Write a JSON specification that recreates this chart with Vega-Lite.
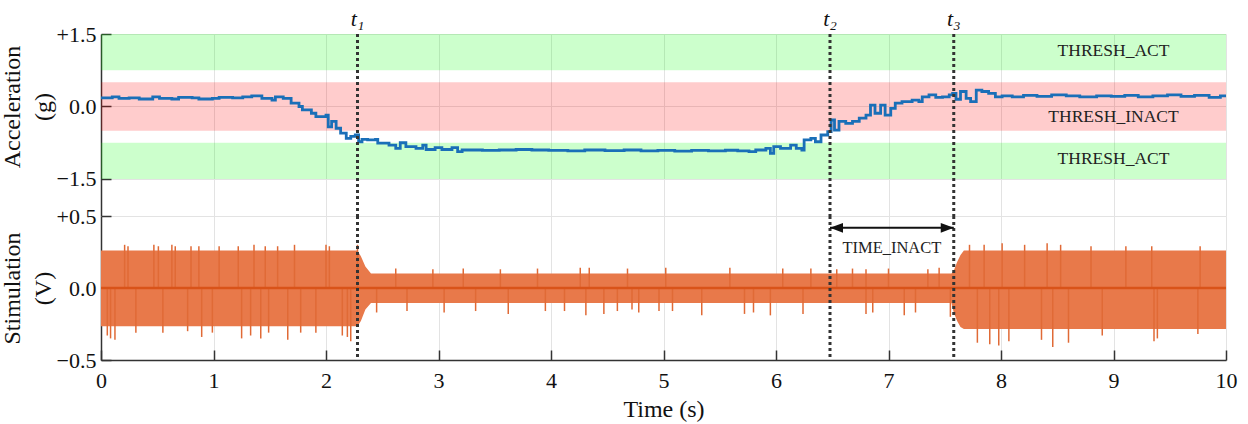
{
  "$schema": "https://vega.github.io/schema/vega-lite/v6.json",
  "padding": {"left": 0, "top": 8, "right": 12, "bottom": 4},
  "spacing": 0,
  "bounds": "flush",
  "resolve": {"scale": {"y": "independent"}},
  "config": {
    "font": "Liberation Serif",
    "view": {"stroke": null},
    "axis": {
      "labelFont": "Liberation Serif", "titleFont": "Liberation Serif",
      "labelFontSize": 22, "titleFontSize": 24, "titleFontWeight": "normal",
      "labelColor": "#111", "titleColor": "#111",
      "domainColor": "#333", "domainWidth": 1.5,
      "tickColor": "#333", "tickWidth": 1.5, "tickSize": -10,
      "gridColor": "#e3e3e3", "gridWidth": 1,
      "labelFlush": false, "labelOverlap": false, "labelBound": false
    },
    "text": {"font": "Liberation Serif"}
  },
  "datasets": {
    "bands": [
      {"t": 0, "t2": 10, "lo": 0.75, "hi": 1.5, "kind": "act"},
      {"t": 0, "t2": 10, "lo": -0.5, "hi": 0.5, "kind": "inact"},
      {"t": 0, "t2": 10, "lo": -1.5, "hi": -0.75, "kind": "act"}
    ],
    "blab": [
      {"t": 9.0, "g": 1.14, "lab": "THRESH_ACT"},
      {"t": 9.0, "g": -0.22, "lab": "THRESH_INACT"},
      {"t": 9.0, "g": -1.09, "lab": "THRESH_ACT"}
    ],
    "ev": [
      {"t": 2.28, "lab": "t₁"},
      {"t": 6.48, "lab": "t₂"},
      {"t": 7.58, "lab": "t₃"}
    ],
    "acc": [
      {"t": 0.00, "g": 0.18}, {"t": 0.10, "g": 0.20}, {"t": 0.16, "g": 0.17}, {"t": 0.25, "g": 0.18},
      {"t": 0.34, "g": 0.155}, {"t": 0.46, "g": 0.20}, {"t": 0.52, "g": 0.17}, {"t": 0.63, "g": 0.155},
      {"t": 0.69, "g": 0.19}, {"t": 0.81, "g": 0.18}, {"t": 0.87, "g": 0.155}, {"t": 0.99, "g": 0.17},
      {"t": 1.05, "g": 0.19}, {"t": 1.17, "g": 0.18}, {"t": 1.26, "g": 0.20}, {"t": 1.34, "g": 0.22},
      {"t": 1.43, "g": 0.17}, {"t": 1.52, "g": 0.13}, {"t": 1.55, "g": 0.20}, {"t": 1.62, "g": 0.17},
      {"t": 1.69, "g": 0.07}, {"t": 1.76, "g": 0.00}, {"t": 1.79, "g": -0.07}, {"t": 1.87, "g": -0.14},
      {"t": 1.91, "g": -0.21}, {"t": 2.00, "g": -0.18}, {"t": 2.02, "g": -0.42}, {"t": 2.05, "g": -0.31},
      {"t": 2.09, "g": -0.45}, {"t": 2.13, "g": -0.55}, {"t": 2.18, "g": -0.66}, {"t": 2.22, "g": -0.62},
      {"t": 2.26, "g": -0.59}, {"t": 2.29, "g": -0.73}, {"t": 2.32, "g": -0.68}, {"t": 2.37, "g": -0.69},
      {"t": 2.44, "g": -0.68}, {"t": 2.46, "g": -0.76}, {"t": 2.56, "g": -0.80}, {"t": 2.62, "g": -0.865},
      {"t": 2.66, "g": -0.75}, {"t": 2.71, "g": -0.83}, {"t": 2.80, "g": -0.865}, {"t": 2.86, "g": -0.80},
      {"t": 2.89, "g": -0.89}, {"t": 2.97, "g": -0.85}, {"t": 3.03, "g": -0.89}, {"t": 3.12, "g": -0.85},
      {"t": 3.17, "g": -0.935}, {"t": 3.21, "g": -0.90}, {"t": 3.39, "g": -0.91}, {"t": 3.54, "g": -0.90},
      {"t": 3.69, "g": -0.89}, {"t": 3.83, "g": -0.90}, {"t": 3.98, "g": -0.91}, {"t": 4.15, "g": -0.92},
      {"t": 4.30, "g": -0.90}, {"t": 4.48, "g": -0.915}, {"t": 4.65, "g": -0.90}, {"t": 4.80, "g": -0.92},
      {"t": 4.95, "g": -0.91}, {"t": 5.10, "g": -0.925}, {"t": 5.25, "g": -0.91}, {"t": 5.40, "g": -0.92},
      {"t": 5.55, "g": -0.905}, {"t": 5.66, "g": -0.92}, {"t": 5.76, "g": -0.935}, {"t": 5.82, "g": -0.90},
      {"t": 5.91, "g": -0.865}, {"t": 5.95, "g": -0.97}, {"t": 5.98, "g": -0.83}, {"t": 6.04, "g": -0.865},
      {"t": 6.13, "g": -0.80}, {"t": 6.18, "g": -0.865}, {"t": 6.23, "g": -0.90}, {"t": 6.25, "g": -0.69},
      {"t": 6.31, "g": -0.66}, {"t": 6.35, "g": -0.73}, {"t": 6.40, "g": -0.59}, {"t": 6.46, "g": -0.52},
      {"t": 6.49, "g": -0.28}, {"t": 6.52, "g": -0.49}, {"t": 6.56, "g": -0.31}, {"t": 6.62, "g": -0.35},
      {"t": 6.68, "g": -0.31}, {"t": 6.74, "g": -0.24}, {"t": 6.80, "g": -0.18}, {"t": 6.84, "g": 0.03},
      {"t": 6.88, "g": -0.14}, {"t": 6.93, "g": 0.03}, {"t": 6.97, "g": -0.18}, {"t": 7.02, "g": -0.04},
      {"t": 7.06, "g": 0.07}, {"t": 7.12, "g": 0.10}, {"t": 7.21, "g": 0.13}, {"t": 7.27, "g": 0.10},
      {"t": 7.30, "g": 0.20}, {"t": 7.36, "g": 0.24}, {"t": 7.42, "g": 0.19}, {"t": 7.48, "g": 0.20},
      {"t": 7.54, "g": 0.24}, {"t": 7.57, "g": 0.27}, {"t": 7.60, "g": 0.15}, {"t": 7.64, "g": 0.31},
      {"t": 7.69, "g": 0.17}, {"t": 7.73, "g": 0.10}, {"t": 7.78, "g": 0.34}, {"t": 7.83, "g": 0.31},
      {"t": 7.89, "g": 0.27}, {"t": 7.95, "g": 0.20}, {"t": 8.01, "g": 0.22}, {"t": 8.10, "g": 0.20},
      {"t": 8.20, "g": 0.23}, {"t": 8.32, "g": 0.21}, {"t": 8.45, "g": 0.24}, {"t": 8.58, "g": 0.22},
      {"t": 8.70, "g": 0.20}, {"t": 8.85, "g": 0.22}, {"t": 8.98, "g": 0.21}, {"t": 9.10, "g": 0.23},
      {"t": 9.22, "g": 0.20}, {"t": 9.35, "g": 0.22}, {"t": 9.48, "g": 0.24}, {"t": 9.60, "g": 0.21},
      {"t": 9.72, "g": 0.23}, {"t": 9.85, "g": 0.19}, {"t": 9.95, "g": 0.22}, {"t": 10.0, "g": 0.22}
    ],
    "env": [
      {"t": 0, "hi": 0.26, "lo": -0.265}, {"t": 2.28, "hi": 0.26, "lo": -0.265},
      {"t": 2.31, "hi": 0.22, "lo": -0.23}, {"t": 2.35, "hi": 0.15, "lo": -0.15},
      {"t": 2.40, "hi": 0.10, "lo": -0.105}, {"t": 7.56, "hi": 0.10, "lo": -0.105},
      {"t": 7.58, "hi": 0.12, "lo": -0.17}, {"t": 7.61, "hi": 0.18, "lo": -0.23},
      {"t": 7.64, "hi": 0.23, "lo": -0.27}, {"t": 7.67, "hi": 0.26, "lo": -0.285},
      {"t": 10, "hi": 0.26, "lo": -0.285}
    ],
    "spk": [
      {"t": 0.21, "hi": 0.30, "lo": 0}, {"t": 0.24, "hi": 0.29, "lo": 0}, {"t": 0.47, "hi": 0.30, "lo": 0},
      {"t": 0.51, "hi": 0.29, "lo": 0}, {"t": 0.63, "hi": 0.30, "lo": 0}, {"t": 0.66, "hi": 0.29, "lo": 0},
      {"t": 0.80, "hi": 0.29, "lo": 0}, {"t": 0.87, "hi": 0.29, "lo": 0}, {"t": 1.05, "hi": 0.29, "lo": 0},
      {"t": 1.22, "hi": 0.29, "lo": 0}, {"t": 1.36, "hi": 0.30, "lo": 0}, {"t": 1.46, "hi": 0.29, "lo": 0},
      {"t": 1.57, "hi": 0.29, "lo": 0}, {"t": 1.72, "hi": 0.30, "lo": 0}, {"t": 2.00, "hi": 0.30, "lo": 0},
      {"t": 2.03, "hi": 0.29, "lo": 0}, {"t": 2.28, "hi": 0.30, "lo": 0},
      {"t": 0.056, "hi": 0, "lo": -0.33}, {"t": 0.085, "hi": 0, "lo": -0.35}, {"t": 0.124, "hi": 0, "lo": -0.36},
      {"t": 0.31, "hi": 0, "lo": -0.31}, {"t": 0.55, "hi": 0, "lo": -0.31}, {"t": 0.77, "hi": 0, "lo": -0.30},
      {"t": 0.895, "hi": 0, "lo": -0.34}, {"t": 0.99, "hi": 0, "lo": -0.31}, {"t": 1.25, "hi": 0, "lo": -0.35},
      {"t": 1.33, "hi": 0, "lo": -0.33}, {"t": 1.42, "hi": 0, "lo": -0.35}, {"t": 1.49, "hi": 0, "lo": -0.31},
      {"t": 1.66, "hi": 0, "lo": -0.36}, {"t": 1.775, "hi": 0, "lo": -0.31}, {"t": 1.91, "hi": 0, "lo": -0.31},
      {"t": 2.145, "hi": 0, "lo": -0.33}, {"t": 2.19, "hi": 0, "lo": -0.34}, {"t": 2.22, "hi": 0, "lo": -0.37},
      {"t": 2.62, "hi": 0.135, "lo": 0}, {"t": 2.95, "hi": 0.13, "lo": 0}, {"t": 3.22, "hi": 0.135, "lo": 0},
      {"t": 3.55, "hi": 0.13, "lo": 0}, {"t": 3.88, "hi": 0.135, "lo": 0}, {"t": 4.26, "hi": 0.14, "lo": 0},
      {"t": 4.34, "hi": 0.14, "lo": 0}, {"t": 4.68, "hi": 0.135, "lo": 0}, {"t": 5.02, "hi": 0.14, "lo": 0},
      {"t": 5.59, "hi": 0.14, "lo": 0}, {"t": 6.06, "hi": 0.135, "lo": 0}, {"t": 6.31, "hi": 0.135, "lo": 0},
      {"t": 6.54, "hi": 0.13, "lo": 0}, {"t": 6.68, "hi": 0.135, "lo": 0}, {"t": 6.80, "hi": 0.13, "lo": 0},
      {"t": 7.00, "hi": 0.135, "lo": 0}, {"t": 7.35, "hi": 0.13, "lo": 0}, {"t": 7.45, "hi": 0.14, "lo": 0},
      {"t": 2.45, "hi": 0, "lo": -0.17}, {"t": 2.72, "hi": 0, "lo": -0.16}, {"t": 3.05, "hi": 0, "lo": -0.17},
      {"t": 3.33, "hi": 0, "lo": -0.16}, {"t": 3.62, "hi": 0, "lo": -0.18}, {"t": 3.95, "hi": 0, "lo": -0.16},
      {"t": 4.12, "hi": 0, "lo": -0.16}, {"t": 4.31, "hi": 0, "lo": -0.19}, {"t": 4.47, "hi": 0, "lo": -0.18},
      {"t": 4.59, "hi": 0, "lo": -0.16}, {"t": 4.72, "hi": 0, "lo": -0.15}, {"t": 4.78, "hi": 0, "lo": -0.17},
      {"t": 4.96, "hi": 0, "lo": -0.16}, {"t": 5.08, "hi": 0, "lo": -0.16}, {"t": 5.34, "hi": 0, "lo": -0.19},
      {"t": 5.72, "hi": 0, "lo": -0.18}, {"t": 5.80, "hi": 0, "lo": -0.17}, {"t": 5.95, "hi": 0, "lo": -0.19},
      {"t": 6.24, "hi": 0, "lo": -0.18}, {"t": 6.80, "hi": 0, "lo": -0.18}, {"t": 6.86, "hi": 0, "lo": -0.17},
      {"t": 7.14, "hi": 0, "lo": -0.19}, {"t": 7.24, "hi": 0, "lo": -0.17}, {"t": 7.55, "hi": 0, "lo": -0.20},
      {"t": 7.72, "hi": 0.30, "lo": 0}, {"t": 7.85, "hi": 0.30, "lo": 0}, {"t": 8.01, "hi": 0.31, "lo": 0},
      {"t": 8.21, "hi": 0.30, "lo": 0}, {"t": 8.41, "hi": 0.31, "lo": 0}, {"t": 8.53, "hi": 0.30, "lo": 0},
      {"t": 8.80, "hi": 0.29, "lo": 0}, {"t": 9.11, "hi": 0.29, "lo": 0}, {"t": 9.34, "hi": 0.29, "lo": 0},
      {"t": 9.77, "hi": 0.29, "lo": 0},
      {"t": 7.79, "hi": 0, "lo": -0.38}, {"t": 7.90, "hi": 0, "lo": -0.39}, {"t": 7.98, "hi": 0, "lo": -0.40},
      {"t": 8.07, "hi": 0, "lo": -0.37}, {"t": 8.36, "hi": 0, "lo": -0.36}, {"t": 8.46, "hi": 0, "lo": -0.41},
      {"t": 8.60, "hi": 0, "lo": -0.38}, {"t": 8.90, "hi": 0, "lo": -0.33}, {"t": 9.36, "hi": 0, "lo": -0.37},
      {"t": 9.39, "hi": 0, "lo": -0.35}, {"t": 9.75, "hi": 0, "lo": -0.32}
    ]
  },
  "vconcat": [
    {
      "width": 1125,
      "height": 182,
      "encoding": {
        "x": {"field": "t", "type": "quantitative",
          "scale": {"domain": [0, 10], "nice": false, "zero": false},
          "axis": {"values": [0,1,2,3,4,5,6,7,8,9,10], "labels": false, "ticks": false, "domain": false, "title": null, "grid": true}}
      },
      "layer": [
        {
          "data": {"name": "bands"},
          "mark": {"type": "rect", "fillOpacity": 0.2, "strokeWidth": 0},
          "encoding": {
            "x2": {"field": "t2"},
            "y": {"field": "lo", "type": "quantitative", "scale": {"domain": [-2.266, 1.5], "nice": false, "zero": false},
              "axis": {"values": [-1.5, 0, 1.5], "grid": true, "labelPadding": 15,
                "labelExpr": "datum.value > 0 ? '+' + format(datum.value, '.1f') : format(datum.value, '.1f')",
                "title": ["Acceleration", "(g)"], "titleY": 72.5, "titleLineHeight": 31, "titlePadding": 1}},
            "y2": {"field": "hi"},
            "color": {"field": "kind", "type": "nominal", "scale": {"domain": ["act", "inact"], "range": ["#00ff00", "#ff0000"]}, "legend": null}
          }
        },
        {
          "data": {"name": "blab"},
          "mark": {"type": "text", "fontSize": 17.5, "color": "#222", "baseline": "middle"},
          "encoding": {
            "y": {"field": "g", "type": "quantitative",
              "axis": {"values": [-1.5, 0, 1.5], "grid": true, "labelPadding": 15,
                "labelExpr": "datum.value > 0 ? '+' + format(datum.value, '.1f') : format(datum.value, '.1f')",
                "title": ["Acceleration", "(g)"], "titleY": 72.5, "titleLineHeight": 31, "titlePadding": 1}},
            "text": {"field": "lab"}
          }
        },
        {
          "data": {"name": "acc"},
          "mark": {"type": "line", "interpolate": "step-after", "color": "#1a6fb8", "strokeWidth": 2.8},
          "encoding": {
            "y": {"field": "g", "type": "quantitative",
              "axis": {"values": [-1.5, 0, 1.5], "grid": true, "labelPadding": 15,
                "labelExpr": "datum.value > 0 ? '+' + format(datum.value, '.1f') : format(datum.value, '.1f')",
                "title": ["Acceleration", "(g)"], "titleY": 72.5, "titleLineHeight": 31, "titlePadding": 1}}
          }
        },
        {
          "data": {"name": "ev"},
          "mark": {"type": "rule", "color": "#333", "strokeWidth": 3, "strokeDash": [3, 3]},
          "encoding": {}
        },
        {
          "data": {"name": "ev"},
          "mark": {"type": "text", "fontSize": 22, "fontStyle": "italic", "baseline": "alphabetic", "dy": -8, "color": "#111"},
          "encoding": {
            "y": {"datum": 1.5},
            "text": {"field": "lab"}
          }
        }
      ]
    },
    {
      "width": 1125,
      "height": 144,
      "encoding": {
        "x": {"field": "t", "type": "quantitative",
          "scale": {"domain": [0, 10], "nice": false, "zero": false},
          "axis": {"values": [0,1,2,3,4,5,6,7,8,9,10], "format": "d", "title": "Time (s)", "grid": true, "labelPadding": 20, "titlePadding": 6}}
      },
      "layer": [
        {
          "data": {"name": "env"},
          "mark": {"type": "area", "color": "#e8794a", "opacity": 1},
          "encoding": {
            "y": {"field": "hi", "type": "quantitative", "scale": {"domain": [-0.5, 0.5], "nice": false, "zero": false},
              "axis": {"values": [-0.5, 0, 0.5], "grid": true, "labelPadding": 15,
                "labelExpr": "datum.value > 0 ? '+' + format(datum.value, '.1f') : format(datum.value, '.1f')",
                "title": ["Stimulation", "(V)"], "titleLineHeight": 31, "titlePadding": 1}},
            "y2": {"field": "lo"}
          }
        },
        {
          "data": {"name": "spk"},
          "mark": {"type": "rule", "color": "#e06a36", "strokeWidth": 1.5},
          "encoding": {
            "y": {"field": "hi", "type": "quantitative",
              "axis": {"values": [-0.5, 0, 0.5], "grid": true, "labelPadding": 15,
                "labelExpr": "datum.value > 0 ? '+' + format(datum.value, '.1f') : format(datum.value, '.1f')",
                "title": ["Stimulation", "(V)"], "titleLineHeight": 31, "titlePadding": 1}},
            "y2": {"field": "lo"}
          }
        },
        {
          "data": {"name": "env"},
          "mark": {"type": "line", "color": "#d95319", "strokeWidth": 2.5},
          "encoding": {"y": {"datum": 0}}
        },
        {
          "data": {"name": "ev"},
          "mark": {"type": "rule", "color": "#333", "strokeWidth": 3, "strokeDash": [3, 3]},
          "encoding": {}
        },
        {
          "data": {"values": [{"t": 6.48, "t2": 7.58, "v": 0.418}]},
          "mark": {"type": "rule", "color": "#111", "strokeWidth": 2},
          "encoding": {
            "x2": {"field": "t2"},
            "y": {"field": "v", "type": "quantitative",
              "axis": {"values": [-0.5, 0, 0.5], "grid": true, "labelPadding": 15,
                "labelExpr": "datum.value > 0 ? '+' + format(datum.value, '.1f') : format(datum.value, '.1f')",
                "title": ["Stimulation", "(V)"], "titleLineHeight": 31, "titlePadding": 1}}
          }
        },
        {
          "data": {"values": [{"t": 6.48, "v": 0.418, "s": "left"}, {"t": 7.58, "v": 0.418, "s": "right"}]},
          "mark": {"type": "point", "filled": true, "color": "#111", "opacity": 1, "size": 169, "strokeWidth": 0},
          "encoding": {
            "y": {"field": "v", "type": "quantitative",
              "axis": {"values": [-0.5, 0, 0.5], "grid": true, "labelPadding": 15,
                "labelExpr": "datum.value > 0 ? '+' + format(datum.value, '.1f') : format(datum.value, '.1f')",
                "title": ["Stimulation", "(V)"], "titleLineHeight": 31, "titlePadding": 1}},
            "shape": {"field": "s", "type": "nominal", "scale": {"domain": ["left", "right"], "range": ["M0,0L2,-0.75L2,0.75Z", "M0,0L-2,-0.75L-2,0.75Z"]}, "legend": null}
          }
        },
        {
          "data": {"values": [{"t": 7.03, "v": 0.275, "lab": "TIME_INACT"}]},
          "mark": {"type": "text", "fontSize": 16.5, "color": "#222", "baseline": "middle"},
          "encoding": {
            "y": {"field": "v", "type": "quantitative",
              "axis": {"values": [-0.5, 0, 0.5], "grid": true, "labelPadding": 15,
                "labelExpr": "datum.value > 0 ? '+' + format(datum.value, '.1f') : format(datum.value, '.1f')",
                "title": ["Stimulation", "(V)"], "titleLineHeight": 31, "titlePadding": 1}},
            "text": {"field": "lab"}
          }
        }
      ]
    }
  ]
}
